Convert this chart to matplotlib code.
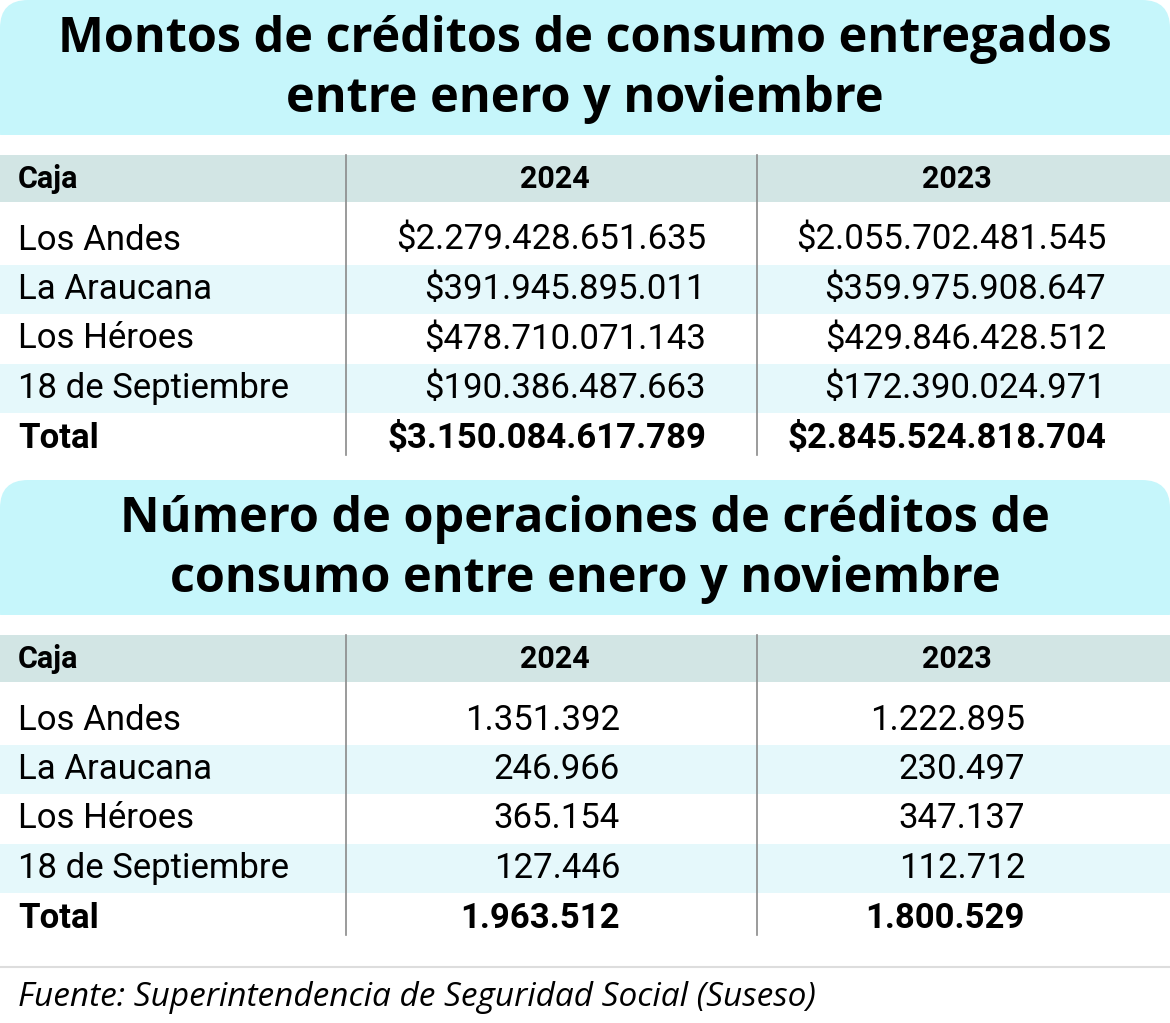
import matplotlib
matplotlib.use("Agg")
import matplotlib.pyplot as plt
from matplotlib.patches import FancyBboxPatch, Rectangle

cajas = ["Los Andes", "La Araucana", "Los Héroes", "18 de Septiembre"]
montos_2024 = ["$2.279.428.651.635", "$391.945.895.011", "$478.710.071.143", "$190.386.487.663"]
montos_2023 = ["$2.055.702.481.545", "$359.975.908.647", "$429.846.428.512", "$172.390.024.971"]
montos_total = ["$3.150.084.617.789", "$2.845.524.818.704"]
ops_2024 = ["1.351.392", "246.966", "365.154", "127.446"]
ops_2023 = ["1.222.895", "230.497", "347.137", "112.712"]
ops_total = ["1.963.512", "1.800.529"]

FAM = ["Roboto", "DejaVu Sans"]
TFAM = ["Open Sans", "DejaVu Sans"]
BAND = "#c6f6fb"
HEAD = "#d2e5e4"
ALT = "#e5f8fb"

fig = plt.figure(figsize=(11.7, 10.23), dpi=100)
ax = fig.add_axes([0, 0, 1, 1])
ax.set_xlim(0, 1170)
ax.set_ylim(1023, 0)
ax.axis("off")


def block(y0, title, c24, c23, tot, x24, x23):
    ax.add_patch(FancyBboxPatch((0, y0), 1170, 160, boxstyle="round,pad=0,rounding_size=28",
                                fc=BAND, ec="none"))
    ax.add_patch(Rectangle((0, y0 + 135), 1170, 40, fc="white", ec="none"))
    for i, line in enumerate(title):
        ax.text(585, y0 + 40 + 60 * i, line, ha="center", va="center", fontsize=35,
                fontweight="bold", family=TFAM)
    hy = y0 + 155
    ax.add_patch(Rectangle((0, hy), 1170, 47, fc=HEAD, ec="none"))
    ax.text(18, hy + 24, "Caja", ha="left", va="center", fontsize=22, fontweight="bold", family=FAM)
    ax.text(555, hy + 24, "2024", ha="center", va="center", fontsize=22, fontweight="bold", family=FAM)
    ax.text(957, hy + 24, "2023", ha="center", va="center", fontsize=22, fontweight="bold", family=FAM)
    for i in range(5):
        yc = y0 + 240 + 49.5 * i
        if i % 2 == 1:
            ax.add_patch(Rectangle((0, yc - 24.5), 1170, 49, fc=ALT, ec="none"))
        if i < 4:
            name, a, b, w = cajas[i], c24[i], c23[i], "normal"
        else:
            name, a, b, w = "Total", tot[0], tot[1], "bold"
        ax.text(18, yc, name, ha="left", va="center", fontsize=25, fontweight=w, family=FAM)
        ax.text(x24, yc, a, ha="right", va="center", fontsize=25, fontweight=w, family=FAM)
        ax.text(x23, yc, b, ha="right", va="center", fontsize=25, fontweight=w, family=FAM)
    for x in (346, 757):
        ax.plot([x, x], [hy, y0 + 455], color="#8a8a8a", lw=1.2)


block(0, ["Montos de créditos de consumo entregados", "entre enero y noviembre"],
      montos_2024, montos_2023, montos_total, 706, 1106)
block(480, ["Número de operaciones de créditos de", "consumo entre enero y noviembre"],
      ops_2024, ops_2023, ops_total, 620, 1025)

ax.plot([0, 1170], [967, 967], color="#dddddd", lw=1.5)
ax.text(18, 998, "Fuente: Superintendencia de Seguridad Social (Suseso)", ha="left", va="center",
        fontsize=24, style="italic", family=["Open Sans", "DejaVu Sans"])

fig.savefig("out.png", dpi=100)
